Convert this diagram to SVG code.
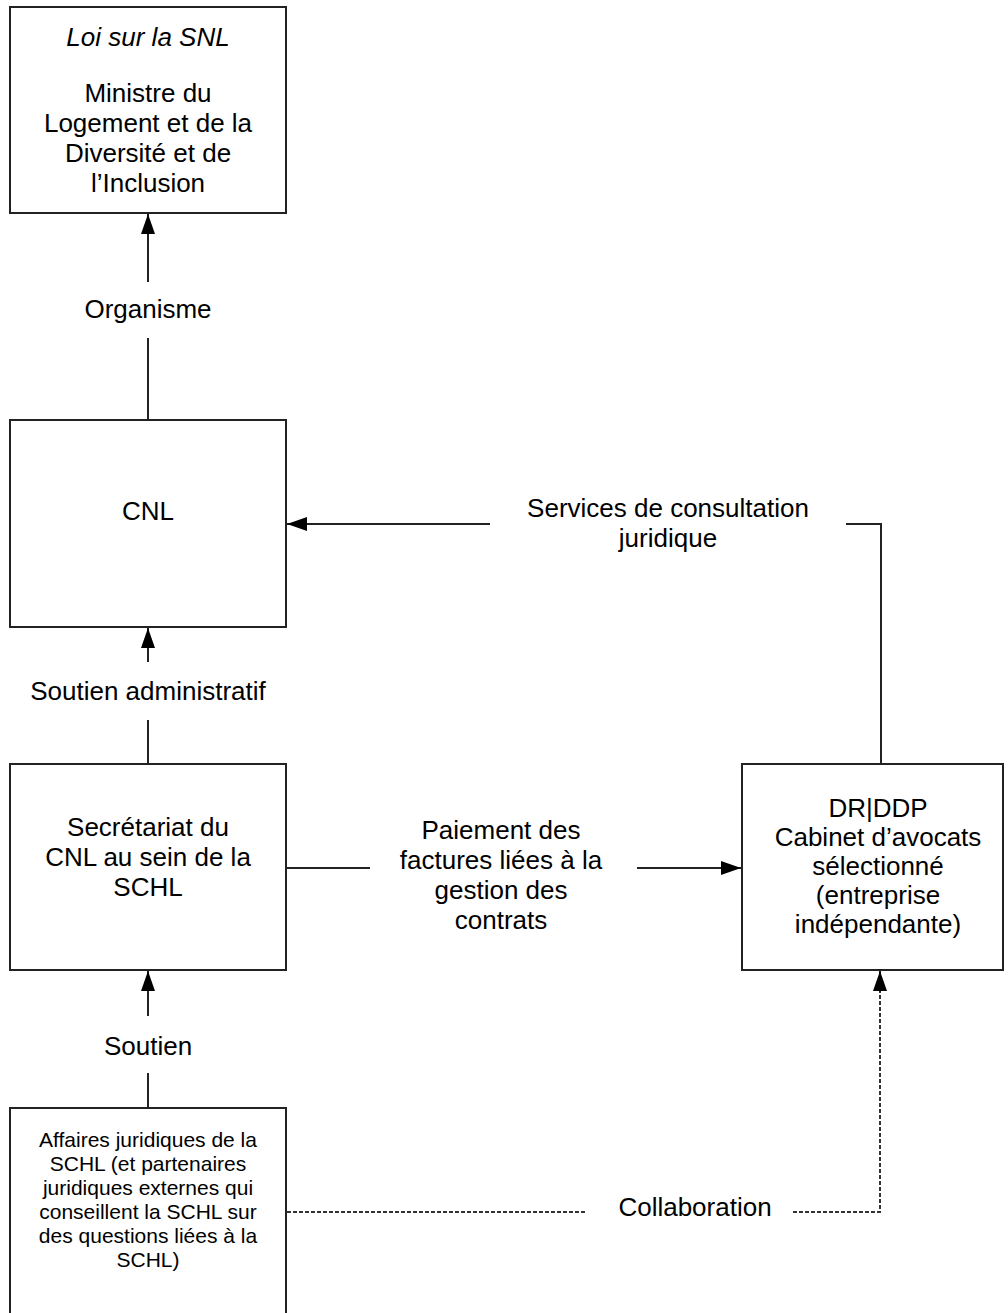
<svg xmlns="http://www.w3.org/2000/svg" width="1008" height="1313" viewBox="0 0 1008 1313">
<style>
.box{fill:#fff;stroke:#222;stroke-width:2}
.t{font-family:"Liberation Sans",Arial,sans-serif;font-size:26px;fill:#000;text-anchor:middle}
.s{font-size:21px}
.c{fill:none;stroke:#222;stroke-width:2}
.d{stroke:#333;stroke-dasharray:4 2}
</style>
<defs>
<marker id="ah" markerUnits="userSpaceOnUse" markerWidth="20" markerHeight="16" refX="20" refY="8" orient="auto">
<path d="M0,1 L20,8 L0,15 z" fill="#000"/>
</marker>
</defs>
<rect width="1008" height="1313" fill="#fff"/>
<g id="connectors">
<line class="c" x1="148" y1="282" x2="148" y2="214" marker-end="url(#ah)"/>
<line class="c" x1="148" y1="338" x2="148" y2="420"/>
<text class="t" x="148" y="318">Organisme</text>
<line class="c" x1="148" y1="662" x2="148" y2="628" marker-end="url(#ah)"/>
<line class="c" x1="148" y1="720" x2="148" y2="764"/>
<text class="t" x="148" y="700">Soutien administratif</text>
<line class="c" x1="148" y1="1016" x2="148" y2="971" marker-end="url(#ah)"/>
<line class="c" x1="148" y1="1073" x2="148" y2="1108"/>
<text class="t" x="148" y="1055">Soutien</text>
<polyline class="c" points="881,764 881,524 846,524"/>
<line class="c" x1="490" y1="524" x2="287" y2="524" marker-end="url(#ah)"/>
<text class="t" x="668" y="517">Services de consultation</text>
<text class="t" x="668" y="547">juridique</text>
<line class="c" x1="286" y1="868" x2="370" y2="868"/>
<line class="c" x1="637" y1="868" x2="741" y2="868" marker-end="url(#ah)"/>
<text class="t" x="501" y="839">Paiement des</text>
<text class="t" x="501" y="869">factures liées à la</text>
<text class="t" x="501" y="899">gestion des</text>
<text class="t" x="501" y="929">contrats</text>
<line class="c d" x1="287" y1="1212" x2="587" y2="1212"/>
<polyline class="c d" points="793,1212 880,1212 880,990"/>
<line class="c" x1="880" y1="992" x2="880" y2="971" marker-end="url(#ah)"/>
<text class="t" x="695" y="1216">Collaboration</text>
</g>
<g id="node-ministre">
<rect class="box" x="10" y="7" width="276" height="206"/>
<text class="t" x="148" y="46" font-style="italic">Loi sur la SNL</text>
<text class="t" x="148" y="102">Ministre du</text>
<text class="t" x="148" y="132">Logement et de la</text>
<text class="t" x="148" y="162">Diversité et de</text>
<text class="t" x="148" y="192">l’Inclusion</text>
</g>
<g id="node-cnl">
<rect class="box" x="10" y="420" width="276" height="207"/>
<text class="t" x="148" y="520">CNL</text>
</g>
<g id="node-secretariat">
<rect class="box" x="10" y="764" width="276" height="206"/>
<text class="t" x="148" y="836">Secrétariat du</text>
<text class="t" x="148" y="866">CNL au sein de la</text>
<text class="t" x="148" y="896">SCHL</text>
</g>
<g id="node-cabinet">
<rect class="box" x="742" y="764" width="261" height="206"/>
<text class="t" x="878" y="817">DR|DDP</text>
<text class="t" x="878" y="846">Cabinet d’avocats</text>
<text class="t" x="878" y="875">sélectionné</text>
<text class="t" x="878" y="904">(entreprise</text>
<text class="t" x="878" y="933">indépendante)</text>
</g>
<g id="node-affaires">
<rect class="box" x="10" y="1108" width="276" height="215"/>
<text class="t s" x="148" y="1147">Affaires juridiques de la</text>
<text class="t s" x="148" y="1171">SCHL (et partenaires</text>
<text class="t s" x="148" y="1195">juridiques externes qui</text>
<text class="t s" x="148" y="1219">conseillent la SCHL sur</text>
<text class="t s" x="148" y="1243">des questions liées à la</text>
<text class="t s" x="148" y="1267">SCHL)</text>
</g>
</svg>
